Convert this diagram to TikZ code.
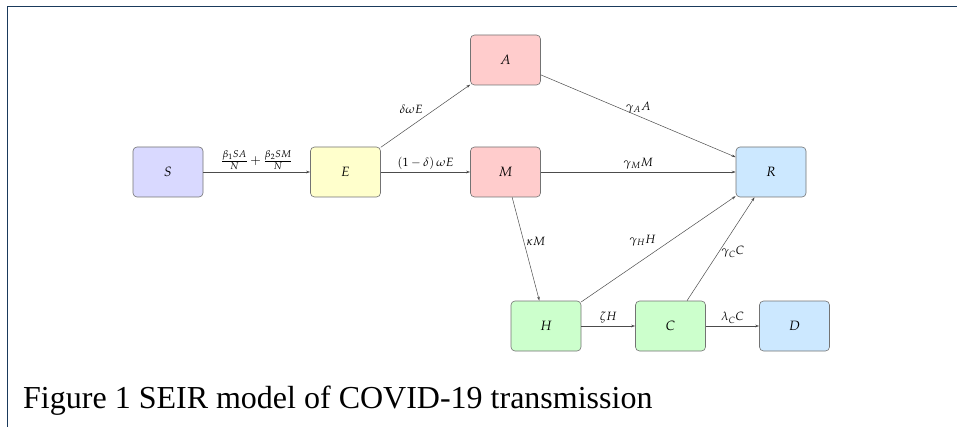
\documentclass[tikz,border=0pt]{standalone}
\usepackage{mathpazo}
\usepackage[no-math]{fontspec}
\newfontfamily\capfont{Liberation Serif}
\usetikzlibrary{arrows.meta}
\definecolor{framecol}{HTML}{1A3A5C}
\definecolor{cS}{HTML}{D9D9FF}
\definecolor{cE}{HTML}{FFFFCC}
\definecolor{cA}{HTML}{FFCCCC}
\definecolor{cR}{HTML}{CCE8FF}
\definecolor{cH}{HTML}{CCFFCC}
\tikzset{
  box/.style={draw=black!55, line width=0.6pt, rounded corners=4pt, minimum width=70pt, minimum height=50pt, font=\fontsize{13.5}{15}\selectfont},
  arr/.style={draw=black!70, line width=0.5pt, -{Stealth[length=4pt,width=2.6pt]}},
  lab/.style={font=\fontsize{12}{14}\selectfont, inner sep=2.5pt}
}
\begin{document}
\begin{tikzpicture}[x=1pt,y=-1pt]
\useasboundingbox (0,0) rectangle (957,427);
\draw[framecol, line width=1pt] (7,427) -- (7,7) -- (957,7);
\node[box, fill=cS] (S) at (168,172) {$S$};
\node[box, fill=cE] (E) at (345.5,172) {$E$};
\node[box, fill=cA] (A) at (505.5,60) {$A$};
\node[box, fill=cA] (M) at (505.5,172) {$M$};
\node[box, fill=cR] (R) at (771,172) {$R$};
\node[box, fill=cH] (H) at (546,326) {$H$};
\node[box, fill=cH] (C) at (670.5,326) {$C$};
\node[box, fill=cR] (D) at (794.5,326) {$D$};
\draw[arr] (S) -- node[lab, above, font=\fontsize{13}{15}\selectfont]{$\frac{\beta_1 SA}{N}+\frac{\beta_2 SM}{N}$} (E);
\draw[arr] (E) -- node[lab, above left]{$\delta\omega E$} (A);
\draw[arr] (E) -- node[lab, above]{$(1-\delta)\,\omega E$} (M);
\draw[arr] (A) -- node[lab, above]{$\gamma_A A$} (R);
\draw[arr] (M) -- node[lab, above]{$\gamma_M M$} (R);
\draw[arr] (M) -- node[lab, right, pos=0.43]{$\kappa M$} (H);
\draw[arr] (H) -- node[lab, above left, pos=0.5]{$\gamma_H H$} (R);
\draw[arr] (C) -- node[lab, right, pos=0.47]{$\gamma_C C$} (R);
\draw[arr] (H) -- node[lab, above]{$\zeta H$} (C);
\draw[arr] (C) -- node[lab, above]{$\lambda_C C$} (D);
\node[anchor=base west, inner sep=0pt, font=\capfont\fontsize{32}{38}\selectfont] (cap) at (23,408) {Figure 1 SEIR model of COVID-19 transmission};
\end{tikzpicture}
\end{document}
